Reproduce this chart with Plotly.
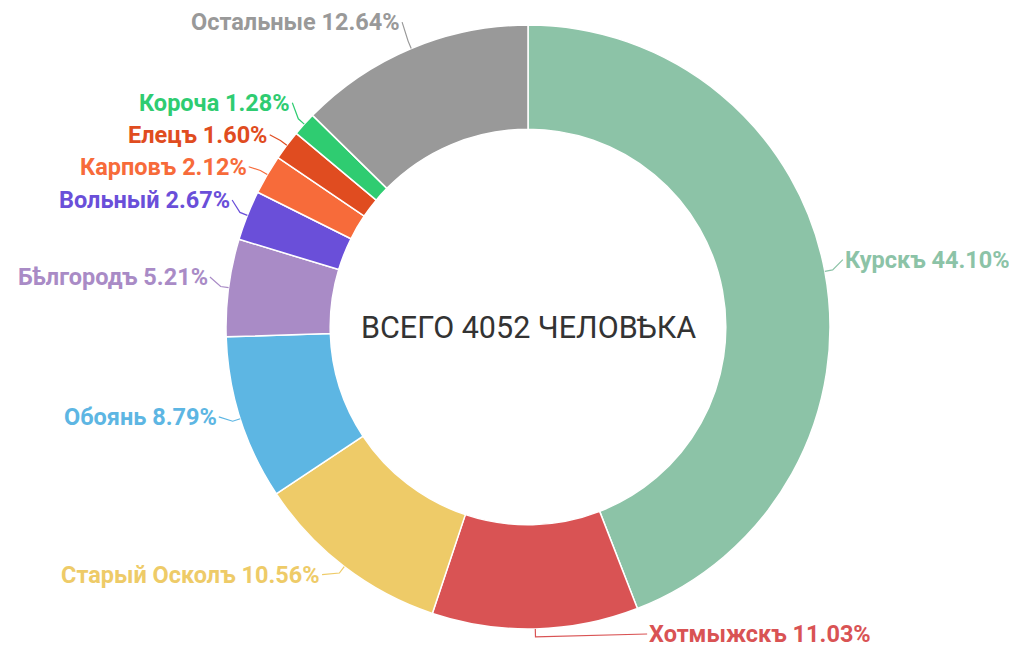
import math
import plotly.graph_objects as go

# ---- data ----
labels = ["Курскъ", "Хотмыжскъ", "Старый Осколъ", "Обоянь", "Бѣлгородъ",
          "Вольный", "Карповъ", "Елецъ", "Короча", "Остальные"]
percents = [44.10, 11.03, 10.56, 8.79, 5.21, 2.67, 2.12, 1.60, 1.28, 12.64]
colors = ["#8cc3a7", "#d95354", "#eecb68", "#5db6e3", "#a98bc6",
          "#6a4fd9", "#f76b3a", "#e04c20", "#2fcc71", "#999999"]
center_text = "ВСЕГО 4052 ЧЕЛОВѢКА"

# ---- layout geometry (page pixels) ----
W, H = 1017, 649
OFF = 8                      # default body margin of the page
FW, FH = W - OFF, H - OFF    # figure size
CX, CY, R = 528, 327, 302
HOLE = 0.655
D = 20          # label distance outside the ring
LIFT = 8        # labels sit slightly above their radial point
GAP = 32        # min vertical gap between labels
FONT = "Roboto, 'Noto Sans', sans-serif"


def px(x, y):
    """page pixel -> paper fraction"""
    return (x - OFF) / FW, 1 - (y - OFF) / FH


fig = go.Figure(go.Pie(
    labels=labels, values=percents, sort=False, direction="clockwise",
    rotation=0, hole=HOLE, textinfo="none", hoverinfo="label+percent",
    marker=dict(colors=colors, line=dict(color="white", width=1.5)),
    domain=dict(x=[px(CX - R, 0)[0], px(CX + R, 0)[0]],
                y=[px(0, CY + R)[1], px(0, CY - R)[1]]),
    showlegend=False,
))

total = sum(percents)
cum = 0.0
items = []
for lab, v, col in zip(labels, percents, colors):
    mid = (cum + v / 2) / total
    cum += v
    th = 2 * math.pi * mid
    s, c = math.sin(th), math.cos(th)
    items.append(dict(
        text=f"{lab} {v:.2f}%", color=col,
        anchor=(CX + R * s, CY - R * c),
        elbow=(CX + (R + 8) * s, CY - (R + 8) * c),
        side=1 if s >= 0 else -1,
        ly=CY - (R + D) * c - LIFT,
    ))

for side in (1, -1):
    grp = sorted([it for it in items if it["side"] == side], key=lambda it: it["ly"])
    prev = -1e9
    for it in grp:
        it["ly"] = max(it["ly"], prev + GAP, 18)
        prev = it["ly"]
    nxt = 1e9
    for it in reversed(grp):
        lim = H - 15
        it["clamped"] = it["ly"] > lim
        it["ly"] = min(it["ly"], nxt - GAP, lim)
        nxt = it["ly"]

shapes = []
annotations = []
for it in items:
    side = it["side"]
    dy = it["ly"] - CY
    lx = CX + side * math.sqrt(max((R + D) ** 2 - dy ** 2, 0))
    if it.get("clamped"):
        lx += side * 22
    ex, ey = it["elbow"]
    lx = max(lx, ex + 6) if side > 0 else min(lx, ex - 6)
    ax_, ay_ = it["anchor"]
    p = [px(ax_, ay_), px(ex, ey), px(lx, it["ly"])]
    shapes.append(dict(
        type="path", xref="paper", yref="paper",
        path=f"M {p[0][0]},{p[0][1]} L {p[1][0]},{p[1][1]} L {p[2][0]},{p[2][1]}",
        line=dict(color=it["color"], width=1.2),
    ))
    tx, ty = px(lx + side * 1, it["ly"])
    annotations.append(dict(
        x=tx, y=ty, xref="paper", yref="paper", text=it["text"], showarrow=False,
        xanchor="left" if side > 0 else "right", yanchor="middle", borderpad=0,
        font=dict(family=FONT, size=23.5, color=it["color"], weight="bold"),
    ))

cx_, cy_ = px(CX, CY)
annotations.append(dict(
    x=cx_, y=cy_, xref="paper", yref="paper", text=center_text, showarrow=False,
    xanchor="center", yanchor="middle",
    font=dict(family=FONT, size=30.5, color="#333333"),
))

fig.update_layout(
    width=FW, height=FH, margin=dict(l=0, r=0, t=0, b=0),
    paper_bgcolor="white", plot_bgcolor="white",
    shapes=shapes, annotations=annotations,
)

fig.write_html("out.html")
